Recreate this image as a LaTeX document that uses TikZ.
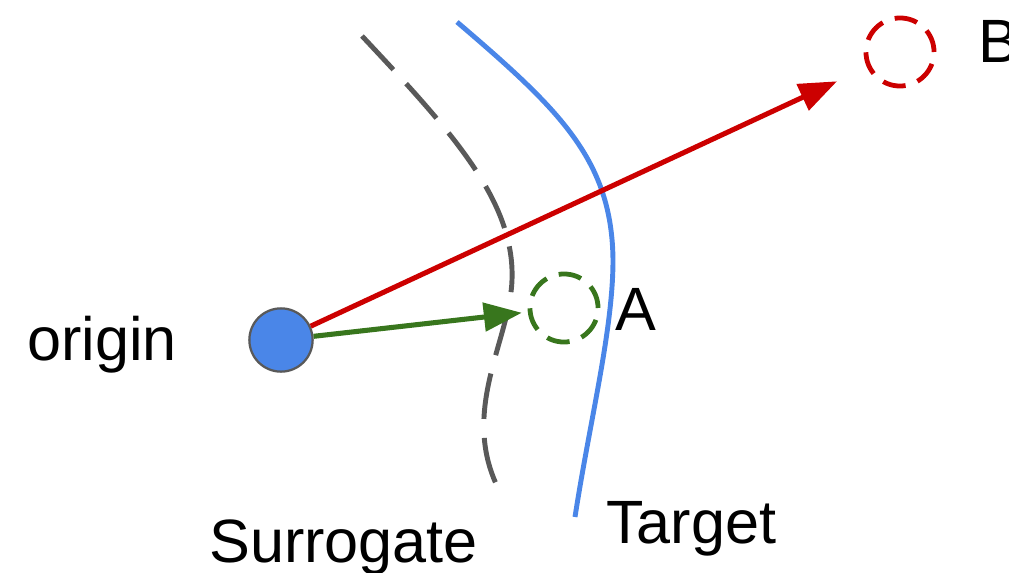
\documentclass[tikz,border=0pt]{standalone}
\usepackage{fontspec}
\setmainfont{Liberation Sans}
\usetikzlibrary{arrows.meta,calc}
\definecolor{ptBlue}{HTML}{4A86E8}
\definecolor{ptRed}{HTML}{CC0000}
\definecolor{ptGreen}{HTML}{38761D}
\definecolor{ptGray}{HTML}{595959}
\newcommand{\labelfont}{\fontsize{43.5}{50}\selectfont}
\tikzset{
  ptlabel/.style={font=\labelfont,text=black,inner sep=0pt,anchor=base west},
  candidate/.style={circle,draw=#1,line width=3.4pt,minimum size=48.4pt,inner sep=0pt,
    dash pattern=on 16.4pt off 9pt},
  boundary/.style={line width=3.5pt},
  push/.style={line width=3.6pt,draw=#1,-{Triangle[length=27pt,width=20pt]}},
}

\begin{document}
\begin{tikzpicture}[x=0.025cm,y=-0.025cm]
  \useasboundingbox (0,0) rectangle (1009,573);
  % the two decision boundaries
  \draw[boundary,ptGray,dash pattern=on 32.7pt off 13.5pt]
    (362,36) .. controls (450,130) and (515,200) .. (512,280)
             .. controls (510,340) and (460,410) .. (498,488);
  \draw[boundary,ptBlue]
    (457,22) .. controls (560,110) and (612,160) .. (613,260)
             .. controls (613,330) and (590,420) .. (575,517);
  \node[circle,fill=ptBlue,draw=ptGray,line width=1.6pt,minimum size=45pt,inner sep=0pt] (origin) at (281,340) {};
  \node[candidate=ptGreen] (candA) at (564,308) {};
  \node[candidate=ptRed] (candB) at (900,52) {};
  \draw[push=ptRed,shorten >=23.5pt] (origin) -- (candB);
  \draw[push=ptGreen,shorten >=4.3pt] (origin) -- (candA);
  % labels
  \node[ptlabel] (originlabel) at (27,360) {origin};
  \node[ptlabel] (labelA) at (615,330) {A};
  \node[ptlabel] (labelB) at (978,62) {B};
  \node[ptlabel] (surrlabel) at (209,562) {Surrogate};
  \node[ptlabel] (targetlabel) at (606,543) {Target};
\end{tikzpicture}
\end{document}
